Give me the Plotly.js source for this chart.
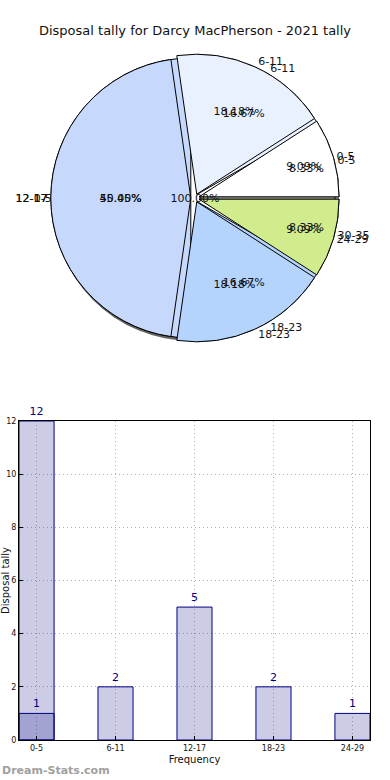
<!DOCTYPE html>
<html><head><meta charset="utf-8">
<script src="https://cdn.plot.ly/plotly-3.0.1.min.js"></script>
<style>html,body{margin:0;padding:0;background:#fff}#c{width:390px;height:780px}</style>
</head><body><div id="c"></div>
<script>
// Pie A (front)
const pieALabels = ['0-5','6-11','12-17','18-23','24-29'];
const pieAValues = [1,2,5,2,1];
// Pie B (behind)
const pieBLabels = ['0-5','6-11','12-17','18-23','30-35'];
const pieBValues = [1,2,6,2,1];
// Pie C (full circle, back)
const pieCLabels = ['0-5'];
const pieCValues = [12];
const pieColors = ['#ffffff','#eaf1fe','#c6d9fd','#b4d4fe','#d0ec8c'];

// Bars
const barCats = ['0-5','6-11','12-17','18-23','24-29'];
const barValues = [1,2,5,2,1];
const extraCats = ['0-5'];
const extraValues = [12];
const yTicks = [0,2,4,6,8,10,12];

const mainDom = {x:[0,1], y:[0.5613,0.9310]};
const fixDom = {x:[0,1], y:[0.5667,0.9256]};
const shadowDom = {x:[0,0.9846], y:[0.5628,0.9218]};
const PULL = 0.03;
const txtFont = {family:'DejaVu Sans', size:11, color:'#111'};
const rev = a => a.slice().reverse();

// slices are given in reverse and drawn clockwise from 3 o'clock,
// which places the first category counter-clockwise from 3 o'clock (matplotlib style)
function base(labels, values, dom, pull) {
  return {
    type:'pie', labels:rev(labels), values:rev(values), domain:dom, sort:false,
    direction:'clockwise', rotation:90, pull:labels.map(()=>pull),
    hoverinfo:'skip', showlegend:false
  };
}
function pieFill(labels, values, dom, pull, colors, line) {
  return Object.assign(base(labels, values, dom, pull), {
    marker:{colors:rev(colors), line:line || {color:'#000', width:1}},
    textinfo:'none'
  });
}
function piePct(labels, values, dom, pull) {
  return Object.assign(base(labels, values, dom, pull), {
    marker:{colors:labels.map(()=> 'rgba(0,0,0,0)'), line:{width:0}},
    texttemplate:'%{percent:.2%}', textposition:'inside', insidetextorientation:'horizontal',
    insidetextfont:txtFont
  });
}
function pieLab(labels, values, dom, pull) {
  return Object.assign(base(labels, values, dom, pull), {
    marker:{colors:labels.map(()=> 'rgba(0,0,0,0)'), line:{width:0}},
    texttemplate:'%{label}', textposition:'outside', outsidetextfont:txtFont
  });
}

const traces = [
  pieFill(['shadow'], [1], shadowDom, 0, ['rgba(70,70,70,0.85)'], {width:0}),
  pieFill(pieCLabels, pieCValues, fixDom, 0, ['#ffffff']),
  pieFill(pieBLabels, pieBValues, mainDom, PULL, pieColors),
  pieFill(pieALabels, pieAValues, mainDom, PULL, pieColors),
  piePct(pieCLabels, pieCValues, fixDom, 0),
  piePct(pieBLabels, pieBValues, mainDom, PULL),
  piePct(pieALabels, pieAValues, mainDom, PULL),
  pieLab(pieCLabels, pieCValues, fixDom, 0),
  pieLab(pieBLabels, pieBValues, mainDom, PULL),
  pieLab(pieALabels, pieAValues, mainDom, PULL),
  {
    type:'bar', x:extraCats, y:extraValues, width:0.444,
    marker:{color:'rgba(0,0,128,0.2)', line:{color:'#000080', width:1}},
    text:extraValues.map(String), textposition:'outside', cliponaxis:false,
    textfont:{family:'DejaVu Sans', size:11, color:'#000080'}, hoverinfo:'skip', showlegend:false
  },
  {
    type:'bar', x:barCats, y:barValues, width:0.444,
    marker:{color:'rgba(0,0,128,0.2)', line:{color:'#000080', width:1}},
    text:barValues.map(String), textposition:'outside', cliponaxis:false,
    textfont:{family:'DejaVu Sans', size:11, color:'#000080'}, hoverinfo:'skip', showlegend:false
  }
];

const gridStyle = {showgrid:true, gridcolor:'#b0b0b0', griddash:'1px,3px', gridwidth:1};
const layout = {
  width:390, height:780, margin:{l:0,r:0,t:0,b:0},
  paper_bgcolor:'#fff', plot_bgcolor:'#fff',
  font:{family:'DejaVu Sans', color:'#111'},
  title:{text:'Disposal tally for Darcy MacPherson - 2021 tally', font:{family:'DejaVu Sans', size:13, color:'#111'},
         x:0.5, xanchor:'center', y:1-30/780, yanchor:'middle', xref:'paper', yref:'paper'},
  barmode:'overlay',
  xaxis:Object.assign({domain:[19/390,370/390], type:'category', range:[-0.222,4.222],
         showline:true, mirror:true, linecolor:'#000', linewidth:1,
         ticks:'inside', ticklen:4, tickcolor:'#000',
         tickfont:{family:'DejaVu Sans', size:8, color:'#111'},
         title:{text:'Frequency', font:{family:'DejaVu Sans', size:10, color:'#111'}, standoff:4},
         automargin:false, fixedrange:true}, gridStyle),
  yaxis:Object.assign({domain:[1-740/780, 1-421/780], range:[0,12], tickvals:yTicks,
         showline:true, mirror:true, linecolor:'#000', linewidth:1,
         ticks:'inside', ticklen:4, tickcolor:'#000', zeroline:false,
         tickfont:{family:'DejaVu Sans', size:8, color:'#111'},
         title:{text:'Disposal tally', font:{family:'DejaVu Sans', size:10, color:'#111'}, standoff:13},
         automargin:false, fixedrange:true}, gridStyle),
  annotations:[
    {text:'<b>Dream-Stats.com</b>', xref:'paper', yref:'paper', x:0, y:1-770/780,
     xanchor:'left', yanchor:'middle', showarrow:false,
     font:{family:'DejaVu Sans', size:11, color:'#a0a0a0'}}
  ]
};

Plotly.newPlot('c', traces, layout, {staticPlot:true, displayModeBar:false});
</script></body></html>
